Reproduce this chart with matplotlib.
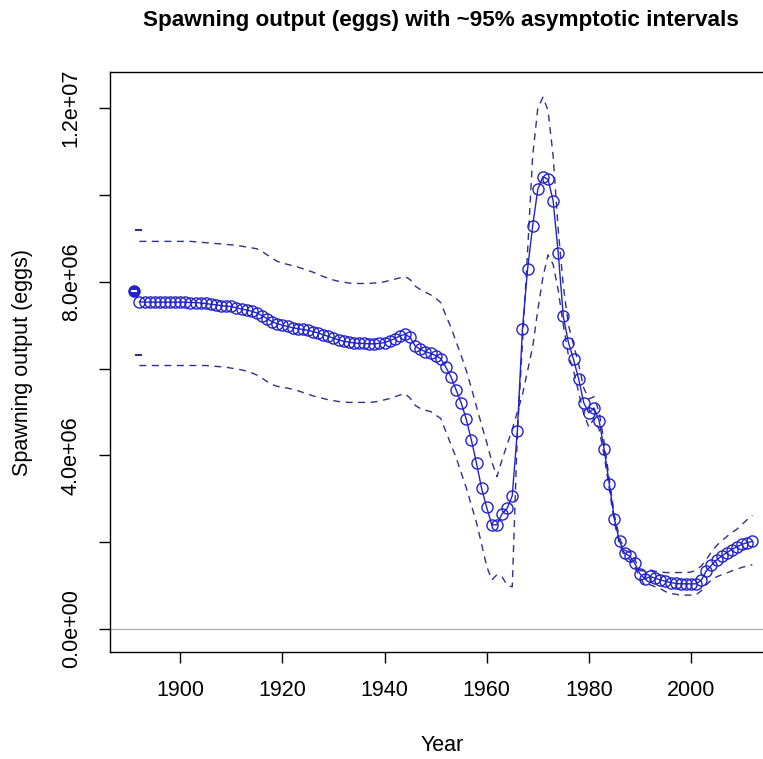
import matplotlib
matplotlib.use("Agg")
import matplotlib.pyplot as plt

plt.rcParams['font.family'] = ['Liberation Sans', 'DejaVu Sans']

# unfished (virgin) spawning output, plotted one year before the series
virgin_year = 1891
virgin_val = 7.79e6
virgin_lo = 6.31e6
virgin_hi = 9.19e6

years = list(range(1892, 2013))

# spawning output, millions of eggs
ssb = [7.54, 7.53, 7.53, 7.53, 7.53, 7.53, 7.53, 7.53,
       7.53, 7.53, 7.52, 7.52, 7.51, 7.50, 7.48, 7.47, 7.45, 7.44,
       7.43, 7.40, 7.37, 7.35, 7.32, 7.28, 7.22, 7.15, 7.08, 7.03,
       7.00, 6.97, 6.94, 6.92, 6.90, 6.88, 6.85, 6.82, 6.78, 6.74,
       6.70, 6.66, 6.63, 6.61, 6.59, 6.58, 6.58, 6.57, 6.57, 6.58,
       6.60, 6.64, 6.69, 6.75, 6.79, 6.72, 6.52, 6.44, 6.39, 6.35,
       6.30, 6.23, 6.03, 5.81, 5.51, 5.21, 4.83, 4.35, 3.82, 3.24,
       2.80, 2.40, 2.40, 2.65, 2.78, 3.07, 4.57, 6.92, 8.29, 9.29,
       10.13, 10.42, 10.36, 9.87, 8.66, 7.20, 6.60, 6.21, 5.76, 5.21,
       4.98, 5.09, 4.80, 4.14, 3.34, 2.53, 2.02, 1.74, 1.68, 1.51,
       1.27, 1.15, 1.21, 1.17, 1.13, 1.10, 1.07, 1.05, 1.04, 1.04,
       1.04, 1.04, 1.12, 1.34, 1.47, 1.59, 1.68, 1.76, 1.83, 1.90,
       1.95, 1.99, 2.02]

# the two interval lines as drawn (they cross after the 1960s dip)
ci_a = [8.93, 8.93, 8.93, 8.93, 8.93, 8.93, 8.93, 8.93,
        8.93, 8.93, 8.93, 8.92, 8.91, 8.90, 8.89, 8.88, 8.87, 8.86,
        8.85, 8.84, 8.82, 8.80, 8.78, 8.76, 8.70, 8.62, 8.54, 8.47,
        8.43, 8.40, 8.37, 8.34, 8.30, 8.26, 8.22, 8.17, 8.12, 8.08,
        8.04, 8.01, 7.99, 7.97, 7.96, 7.96, 7.96, 7.96, 7.97, 7.98,
        8.00, 8.03, 8.06, 8.09, 8.12, 8.05, 7.90, 7.82, 7.76, 7.70,
        7.62, 7.52, 7.22, 6.95, 6.62, 6.30, 5.95, 5.55, 5.12, 4.70,
        4.30, 3.85, 3.51, 3.90, 4.25, 4.60, 5.00, 5.40, 5.95, 6.50,
        7.35, 8.10, 8.62, 8.40, 7.80, 7.00, 6.30, 5.95, 5.45, 4.95,
        4.65, 4.85, 4.60, 4.00, 3.22, 2.45, 1.95, 1.67, 1.60, 1.43,
        1.18, 1.00, 1.02, 0.97, 0.93, 0.86, 0.82, 0.80, 0.78, 0.78,
        0.78, 0.79, 0.88, 1.02, 1.13, 1.20, 1.25, 1.29, 1.34, 1.38,
        1.42, 1.45, 1.48]

ci_b = [6.07, 6.07, 6.07, 6.07, 6.07, 6.07, 6.07, 6.07,
        6.07, 6.07, 6.07, 6.07, 6.07, 6.07, 6.06, 6.05, 6.04, 6.03,
        6.01, 5.99, 5.97, 5.94, 5.90, 5.85, 5.78, 5.70, 5.63, 5.59,
        5.57, 5.55, 5.52, 5.49, 5.45, 5.41, 5.37, 5.34, 5.31, 5.28,
        5.26, 5.24, 5.23, 5.22, 5.22, 5.22, 5.22, 5.22, 5.23, 5.25,
        5.28, 5.31, 5.35, 5.39, 5.42, 5.32, 5.15, 5.08, 5.04, 5.01,
        4.93, 4.85, 4.55, 4.25, 3.95, 3.60, 3.25, 2.85, 2.45, 1.95,
        1.44, 1.13, 1.25, 1.20, 1.01, 0.97, 4.50, 6.60, 8.70, 10.90,
        12.00, 12.25, 11.95, 10.90, 9.20, 7.90, 7.00, 6.55, 6.10, 5.55,
        5.30, 5.35, 5.00, 4.30, 3.45, 2.62, 2.10, 1.82, 1.76, 1.60,
        1.35, 1.33, 1.36, 1.33, 1.31, 1.30, 1.30, 1.30, 1.30, 1.30,
        1.31, 1.36, 1.45, 1.60, 1.78, 1.92, 2.03, 2.13, 2.22, 2.30,
        2.41, 2.52, 2.62]

xticks = [1900, 1920, 1940, 1960, 1980, 2000]
yticks = [0, 2e6, 4e6, 6e6, 8e6, 10e6, 12e6]
ylabels = ['0.0e+00', '', '4.0e+06', '', '8.0e+06', '', '1.2e+07']

ssb = [v * 1e6 for v in ssb]
ci_a = [v * 1e6 for v in ci_a]
ci_b = [v * 1e6 for v in ci_b]

col = '#2222cc'
dcol = '#30308c'

fig = plt.figure(figsize=(7.63, 7.59), dpi=100)
ax = fig.add_axes([0.1436, 0.141, 0.8748, 0.764])

ax.axhline(0, color='#b4b4b4', lw=1)

ax.plot(years, ci_a, color=dcol, lw=1, ls=(0, (5, 4)))
ax.plot(years, ci_b, color=dcol, lw=1, ls=(0, (5, 4)))
ax.plot(years, ssb, '-', color=col, lw=1)
ax.plot(years, ssb, 'o', mfc='none', mec=col, ms=8, mew=1)

ax.plot(virgin_year, virgin_val, 'o', color=col, ms=8)
ax.plot(virgin_year, virgin_val, '_', color='white', ms=5, mew=1.5)
for v in (virgin_lo, virgin_hi):
    ax.plot([virgin_year + 0.35, virgin_year + 1.25], [v, v], color=dcol, lw=1.5)

ax.set_xlim(1886.16, 2016.84)
ax.set_ylim(-0.53e6, 12.83e6)
ax.set_xticks(xticks)
ax.set_xticklabels([str(x) for x in xticks])
ax.set_yticks(yticks)
ax.set_yticklabels(ylabels, rotation=90, va='center')
ax.tick_params(length=8, width=1, labelsize=15.5, pad=12)
for s in ax.spines.values():
    s.set_linewidth(1)

fig.text(0.578, 0.973, 'Spawning output (eggs) with ~95% asymptotic intervals',
         ha='center', va='center', fontsize=16.2, fontweight='bold')
fig.text(0.58, 0.018, 'Year', ha='center', va='center', fontsize=15.5)
fig.text(0.029, 0.523, 'Spawning output (eggs)', ha='center', va='center',
         rotation=90, fontsize=15.5)

fig.savefig('out.png', dpi=100)
